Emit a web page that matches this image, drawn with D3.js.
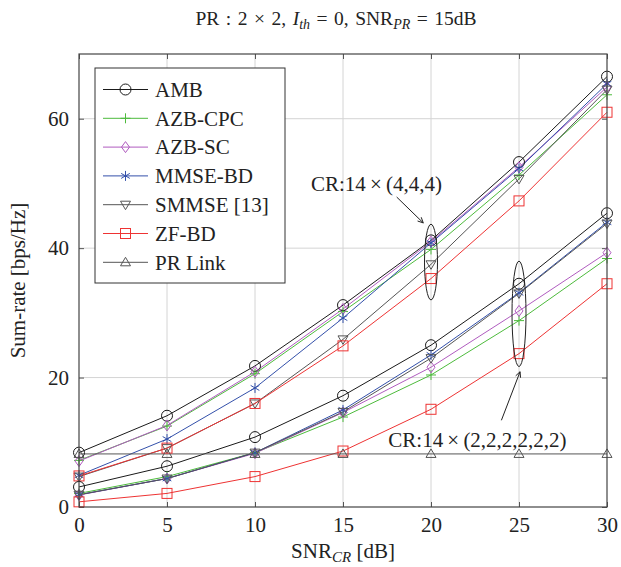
<!DOCTYPE html>
<html>
<head>
<meta charset="utf-8">
<script src="https://cdn.jsdelivr.net/npm/d3@7"></script>
<style>
  html, body { margin: 0; padding: 0; background: #fff; }
  svg { display: block; }
  text { font-family: "Liberation Serif", "DejaVu Serif", serif; fill: #222; }
</style>
</head>
<body>
<svg id="chart" width="621" height="567"></svg>
<script>
// SNR of the cognitive radio link, dB
const snr = [0, 5, 10, 15, 20, 25, 30];

// Sum-rate [bps/Hz], CR: 14 x (4,4,4)
const ambHigh    = [8.4, 14.1, 21.8, 31.2, 41.2, 53.3, 66.5];
const azbCpcHigh = [7.2, 12.5, 20.6, 30.2, 39.8, 51.3, 63.7];
const azbScHigh  = [7.1, 12.6, 20.9, 30.6, 41.0, 52.5, 64.9];
const mmseHigh   = [4.9, 10.5, 18.4, 29.2, 40.8, 52.3, 65.4];
const smmseHigh  = [4.7, 9.1, 16.0, 25.9, 37.5, 50.7, 64.5];
const zfHigh     = [4.8, 9.1, 16.0, 24.9, 35.3, 47.3, 61.0];

// Sum-rate [bps/Hz], CR: 14 x (2,2,2,2,2,2)
const ambLow    = [3.1, 6.3, 10.8, 17.2, 25.0, 34.5, 45.4];
const azbCpcLow = [2.1, 4.7, 8.4, 13.9, 20.4, 28.8, 38.4];
const azbScLow  = [1.85, 4.4, 8.3, 14.6, 21.6, 30.3, 39.3];
const mmseLow   = [1.9, 4.4, 8.4, 15.0, 23.5, 33.1, 44.0];
const smmseLow  = [1.9, 4.4, 8.4, 14.7, 23.0, 33.0, 43.8];
const zfLow     = [0.8, 2.1, 4.7, 8.65, 15.1, 23.7, 34.5];

// Primary link rate (constant over SNR_CR)
const prLink = [8.2, 8.2, 8.2, 8.2, 8.2, 8.2, 8.2];

const xTicks = [0, 5, 10, 15, 20, 25, 30];
const yTicks = [0, 20, 40, 60];

const legendNames = ["AMB", "AZB-CPC", "AZB-SC", "MMSE-BD", "SMMSE [13]", "ZF-BD", "PR Link"];
const legendColors = ["#1a1a1a", "#4dbb3c", "#b05cbf", "#3350aa", "#555555", "#ee3333", "#555555"];
const legendShapes = ["circle", "plus", "diamond", "star", "triDown", "square", "triUp"];

const series = [
  { vals: ambHigh, k: 0 }, { vals: azbCpcHigh, k: 1 }, { vals: azbScHigh, k: 2 },
  { vals: mmseHigh, k: 3 }, { vals: smmseHigh, k: 4 }, { vals: zfHigh, k: 5 },
  { vals: ambLow, k: 0 }, { vals: azbCpcLow, k: 1 }, { vals: azbScLow, k: 2 },
  { vals: mmseLow, k: 3 }, { vals: smmseLow, k: 4 }, { vals: zfLow, k: 5 },
  { vals: prLink, k: 6 }
];

const svg = d3.select("#chart");
const L = 79, R = 607, T = 54, B = 507;
const FS = 21;
const x = d3.scaleLinear().domain([0, 30]).range([L, R]);
const y = d3.scaleLinear().domain([0, 70]).range([B, T]);

// grid
const grid = svg.append("g").attr("stroke", "#d4d4d4").attr("stroke-width", 1);
xTicks.slice(1, -1).forEach(t => grid.append("line")
  .attr("x1", x(t)).attr("x2", x(t)).attr("y1", T).attr("y2", B));
yTicks.slice(1).forEach(t => grid.append("line")
  .attr("x1", L).attr("x2", R).attr("y1", y(t)).attr("y2", y(t)));

// axes
const axB = svg.append("g").attr("transform", `translate(0,${B})`)
  .call(d3.axisBottom(x).tickValues(xTicks).tickSize(-5).tickPadding(10));
const axL = svg.append("g").attr("transform", `translate(${L},0)`)
  .call(d3.axisLeft(y).tickValues(yTicks).tickSize(-5).tickPadding(10));
const axT = svg.append("g").attr("transform", `translate(0,${T})`)
  .call(d3.axisTop(x).tickValues(xTicks).tickSize(-5).tickFormat(""));
const axR = svg.append("g").attr("transform", `translate(${R},0)`)
  .call(d3.axisRight(y).tickValues(yTicks).tickSize(-5).tickFormat(""));
[axB, axL, axT, axR].forEach(a => {
  a.select(".domain").remove();
  a.selectAll("line").attr("stroke", "#555");
  a.selectAll("text").attr("font-size", FS).attr("font-family", "Liberation Serif").attr("fill", "#222");
});

function marker(g, shape, cx, cy, color) {
  const s = 5;
  if (shape === "circle") {
    g.append("circle").attr("cx", cx).attr("cy", cy).attr("r", 5.5)
      .attr("fill", "none").attr("stroke", color);
  } else if (shape === "square") {
    g.append("rect").attr("x", cx - s).attr("y", cy - s).attr("width", 2 * s).attr("height", 2 * s)
      .attr("fill", "none").attr("stroke", color);
  } else if (shape === "diamond") {
    g.append("path").attr("d", `M${cx},${cy - 5.5}L${cx + 4},${cy}L${cx},${cy + 5.5}L${cx - 4},${cy}Z`)
      .attr("fill", "none").attr("stroke", color);
  } else if (shape === "plus") {
    g.append("path").attr("d", `M${cx - s},${cy}H${cx + s}M${cx},${cy - s}V${cy + s}`)
      .attr("fill", "none").attr("stroke", color);
  } else if (shape === "star") {
    const a = 5, b = a * Math.cos(Math.PI / 6), c = a * 0.5;
    g.append("path").attr("d",
      `M${cx},${cy - a}V${cy + a}M${cx - b},${cy - c}L${cx + b},${cy + c}M${cx - b},${cy + c}L${cx + b},${cy - c}`)
      .attr("fill", "none").attr("stroke", color);
  } else if (shape === "triDown") {
    g.append("path").attr("d", `M${cx - 5},${cy - 3.5}L${cx + 5},${cy - 3.5}L${cx},${cy + 5}Z`)
      .attr("fill", "none").attr("stroke", color);
  } else if (shape === "triUp") {
    g.append("path").attr("d", `M${cx - 5},${cy + 3.5}L${cx + 5},${cy + 3.5}L${cx},${cy - 5}Z`)
      .attr("fill", "none").attr("stroke", color);
  }
}

// data lines and markers
const plot = svg.append("g");
const line = d3.line().x((d, i) => x(snr[i])).y(d => y(d));
series.forEach(s => {
  plot.append("path").datum(s.vals).attr("d", line)
    .attr("fill", "none").attr("stroke", legendColors[s.k]).attr("stroke-width", 1);
});
series.forEach(s => {
  s.vals.forEach((v, i) => marker(plot, legendShapes[s.k], x(snr[i]), y(v), legendColors[s.k]));
});

// frame
svg.append("rect").attr("x", L).attr("y", T).attr("width", R - L).attr("height", B - T)
  .attr("fill", "none").attr("stroke", "#444").attr("stroke-width", 1.2);

// annotations: ellipses, arrows and labels
const ann = svg.append("g");
const ellipses = [
  { xv: 20, lo: 32.0, hi: 43.7, rx: 6.5 },
  { xv: 25, lo: 21.7, hi: 38.0, rx: 7 }
];
ellipses.forEach(e => ann.append("ellipse")
  .attr("cx", x(e.xv)).attr("cy", (y(e.lo) + y(e.hi)) / 2)
  .attr("rx", e.rx).attr("ry", (y(e.lo) - y(e.hi)) / 2)
  .attr("fill", "none").attr("stroke", "#222").attr("stroke-width", 1));

const arrows = [
  { x1: 18.05, y1: 47.9, x2: 19.56, y2: 43.9 },
  { x1: 24.0, y1: 13.4, x2: 25.06, y2: 20.9 }
];
arrows.forEach(a => {
  const X1 = x(a.x1), Y1 = y(a.y1), X2 = x(a.x2), Y2 = y(a.y2);
  ann.append("line").attr("x1", X1).attr("y1", Y1).attr("x2", X2).attr("y2", Y2)
    .attr("stroke", "#222").attr("stroke-width", 1);
  const ang = Math.atan2(Y2 - Y1, X2 - X1), h = 6, w = 0.45;
  ann.append("path").attr("d",
    `M${X2 - h * Math.cos(ang - w)},${Y2 - h * Math.sin(ang - w)}L${X2},${Y2}L${X2 - h * Math.cos(ang + w)},${Y2 - h * Math.sin(ang + w)}`)
    .attr("fill", "none").attr("stroke", "#222").attr("stroke-width", 1);
});

const labels = [
  { xv: 16.9, yv: 50.0, t: "CR:14\u2009\u00d7\u2009(4,4,4)" },
  { xv: 22.64, yv: 10.35, t: "CR:14\u2009\u00d7\u2009(2,2,2,2,2,2)" }
];
labels.forEach(l => ann.append("text")
  .attr("x", x(l.xv)).attr("y", y(l.yv)).attr("dy", "0.35em")
  .attr("text-anchor", "middle").attr("font-size", FS).text(l.t));

// legend
const lg = svg.append("g");
lg.append("rect").attr("x", 95).attr("y", 68).attr("width", 190).attr("height", 215)
  .attr("fill", "#fff").attr("stroke", "#333").attr("stroke-width", 1);
legendNames.forEach((n, i) => {
  const cy = 89.5 + i * 28.8;
  lg.append("line").attr("x1", 103).attr("x2", 148).attr("y1", cy).attr("y2", cy)
    .attr("stroke", legendColors[i]).attr("stroke-width", 1);
  marker(lg, legendShapes[i], 125.5, cy, legendColors[i]);
  lg.append("text").attr("x", 155).attr("y", cy).attr("dy", "0.35em")
    .attr("font-size", FS).text(n);
});

// title
const sp = "\u2004";
const title = svg.append("text").attr("x", 336).attr("y", 25).attr("text-anchor", "middle")
  .attr("font-size", 19.5);
title.append("tspan").text(`PR${sp}:${sp}2${sp}\u00d7${sp}2,${sp}`);
title.append("tspan").attr("font-style", "italic").text("I");
title.append("tspan").attr("font-style", "italic").attr("font-size", 14).attr("dy", 4).text("th");
title.append("tspan").attr("dy", -4).text(`${sp}=${sp}0,${sp}SNR`);
title.append("tspan").attr("font-style", "italic").attr("font-size", 14).attr("dy", 4).text("PR");
title.append("tspan").attr("dy", -4).text(`${sp}=${sp}15dB`);

// axis titles
const xl = svg.append("text").attr("x", 343).attr("y", 558).attr("text-anchor", "middle")
  .attr("font-size", 21);
xl.append("tspan").text("SNR");
xl.append("tspan").attr("font-style", "italic").attr("font-size", 15).attr("dy", 4).text("CR");
xl.append("tspan").attr("dy", -4).text(" [dB]");

svg.append("text").attr("transform", `translate(25,${(T + B) / 2}) rotate(-90)`)
  .attr("text-anchor", "middle").attr("font-size", FS).text("Sum-rate [bps/Hz]");
</script>
</body>
</html>
